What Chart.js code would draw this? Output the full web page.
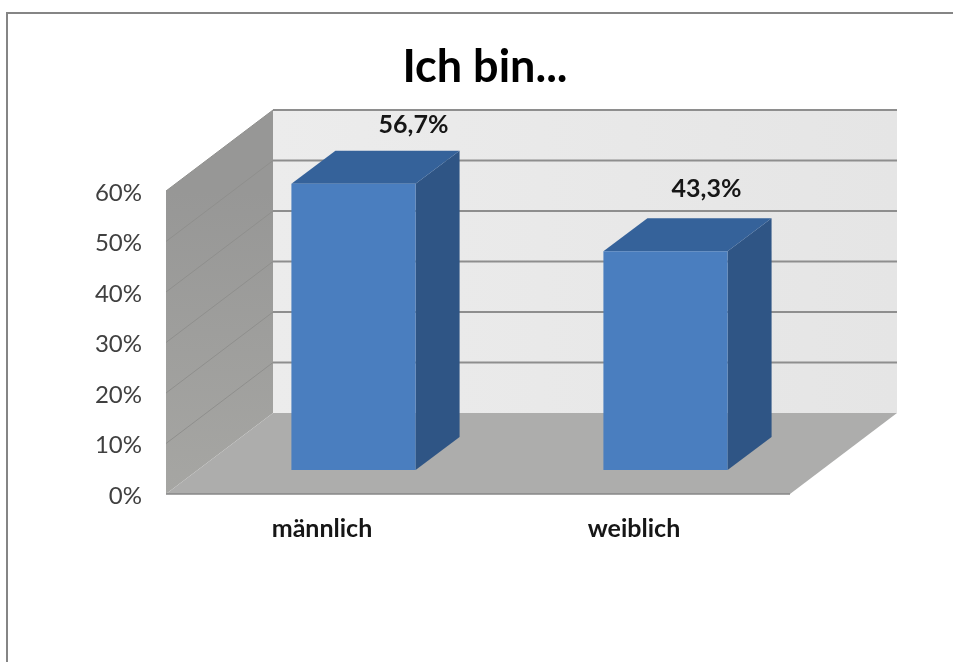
<!DOCTYPE html>
<html lang="de">
<head>
<meta charset="utf-8">
<title>Ich bin...</title>
<script src="https://cdn.jsdelivr.net/npm/chart.js@4"></script>
<style>
  html, body { margin: 0; height: 100%; background: #fff; overflow: hidden; }
  #frame {
    position: absolute; left: 6px; top: 12px;
    border-top: 2px solid #858585; border-left: 2px solid #858585;
  }
  canvas { display: block; }
</style>
</head>
<body>
<div id="frame"><canvas id="myBars" width="954" height="648"></canvas></div>
<script>
var categories = ["männlich", "weiblich"];
var shares = [56.7, 43.3];
var tickStep = 10;
var tickMax = 60;

// how far the floor runs back, and where the columns stand on it
var depthX = 107;
var depthY = 81;
var barShiftX = 31.5;
var barShiftY = 24;
var barDepthX = 44;
var barDepthY = 33;
// the value labels were placed by hand, each bar has its own nudge
var labelNudgeX = [60, 41];
var labelRise = [59, 62];

function poly(ctx, pts, fill) {
  ctx.beginPath();
  ctx.moveTo(pts[0][0], pts[0][1]);
  for (var i = 1; i < pts.length; i++) ctx.lineTo(pts[i][0], pts[i][1]);
  ctx.closePath();
  ctx.fillStyle = fill;
  ctx.fill();
}

function line(ctx, x1, y1, x2, y2, color, width) {
  ctx.beginPath();
  ctx.moveTo(x1, y1);
  ctx.lineTo(x2, y2);
  ctx.strokeStyle = color;
  ctx.lineWidth = width;
  ctx.stroke();
}

var box3d = {
  id: "box3d",
  beforeDatasetsDraw: function (chart) {
    var ctx = chart.ctx;
    var a = chart.chartArea;
    var y = chart.scales.y;
    ctx.save();

    var wall = ctx.createLinearGradient(a.left + depthX, 0, a.right + depthX, 0);
    wall.addColorStop(0, "#ececec");
    wall.addColorStop(1, "#e5e5e5");
    poly(ctx, [[a.left + depthX, a.top - depthY], [a.right + depthX, a.top - depthY],
               [a.right + depthX, a.bottom - depthY], [a.left + depthX, a.bottom - depthY]], wall);

    var side = ctx.createLinearGradient(0, a.top, 0, a.bottom);
    side.addColorStop(0, "#979796");
    side.addColorStop(1, "#a6a6a3");
    poly(ctx, [[a.left, a.top], [a.left + depthX, a.top - depthY],
               [a.left + depthX, a.bottom - depthY], [a.left, a.bottom]], side);

    poly(ctx, [[a.left, a.bottom], [a.left + depthX, a.bottom - depthY],
               [a.right + depthX, a.bottom - depthY], [a.right, a.bottom]], "#adadac");

    y.ticks.forEach(function (t) {
      var py = y.getPixelForValue(t.value);
      if (t.value > 0) {
        line(ctx, a.left, py, a.left + depthX, py - depthY, "#8f8f8d", 1);
        line(ctx, a.left + depthX, py - depthY, a.right + depthX, py - depthY, "#8e8e8e", 2);
      }
    });
    line(ctx, a.left, a.bottom, a.right, a.bottom, "#878787", 1.5);
    ctx.restore();
  },
  // side and top faces first, then shift the canvas so the bar itself lands on the floor
  beforeDatasetDraw: function (chart, args) {
    var ctx = chart.ctx;
    ctx.save();
    ctx.translate(barShiftX, -barShiftY);
    args.meta.data.forEach(function (bar) {
      var p = bar.getProps(["x", "y", "base", "width"]);
      var l = p.x - p.width / 2;
      var r = p.x + p.width / 2;
      poly(ctx, [[r, p.y], [r + barDepthX, p.y - barDepthY],
                 [r + barDepthX, p.base - barDepthY], [r, p.base]], "#2f5585");
      poly(ctx, [[l, p.y], [l + barDepthX, p.y - barDepthY],
                 [r + barDepthX, p.y - barDepthY], [r, p.y]], "#35629a");
    });
  },
  afterDatasetDraw: function (chart) {
    chart.ctx.restore();
  },
  afterDatasetsDraw: function (chart) {
    var ctx = chart.ctx;
    var meta = chart.getDatasetMeta(0);
    ctx.save();
    ctx.font = "bold 25px Lato";
    ctx.fillStyle = "#161616";
    ctx.textAlign = "center";
    ctx.textBaseline = "middle";
    meta.data.forEach(function (bar, i) {
      var text = shares[i].toFixed(1).replace(".", ",") + "%";
      ctx.fillText(text, bar.x + barShiftX + labelNudgeX[i], bar.y - barShiftY - labelRise[i]);
    });
    ctx.restore();
  }
};

var myBars = new Chart(document.getElementById("myBars").getContext("2d"), {
  type: "bar",
  data: {
    labels: categories,
    datasets: [{
      data: shares,
      backgroundColor: "#4a7ebf",
      barPercentage: 1,
      categoryPercentage: 0.398,
      clip: false
    }]
  },
  options: {
    responsive: false,
    animation: false,
    layout: { padding: { left: 0, right: 0, top: 0, bottom: 108 } },
    plugins: {
      legend: { display: false },
      tooltip: { enabled: false },
      title: {
        display: true,
        text: "Ich bin...",
        color: "#000",
        font: { family: "Lato", size: 45, weight: "bold", lineHeight: 1.2 },
        padding: { top: 26, bottom: 97 }
      }
    },
    scales: {
      x: {
        grid: { display: false },
        border: { display: false },
        afterFit: function (s) { s.height = 60; },
        ticks: { color: "#161616", padding: 12, font: { family: "Lato", size: 25, weight: "bold" } }
      },
      y: {
        min: 0,
        max: tickMax,
        grid: { display: false },
        border: { display: false },
        afterFit: function (s) { s.width = 158; },
        ticks: {
          stepSize: tickStep,
          color: "#404040",
          padding: 16,
          labelOffset: 2,
          font: { family: "Lato", size: 24 },
          callback: function (v) { return v + "%"; }
        }
      },
      // empty axis that keeps the room for the floor's depth, the title still centres on the full width
      depthRoom: {
        position: "right",
        grid: { display: false },
        border: { display: false },
        ticks: { display: false },
        afterFit: function (s) { s.width = 172; }
      }
    }
  },
  plugins: [box3d]
});
</script>
</body>
</html>
